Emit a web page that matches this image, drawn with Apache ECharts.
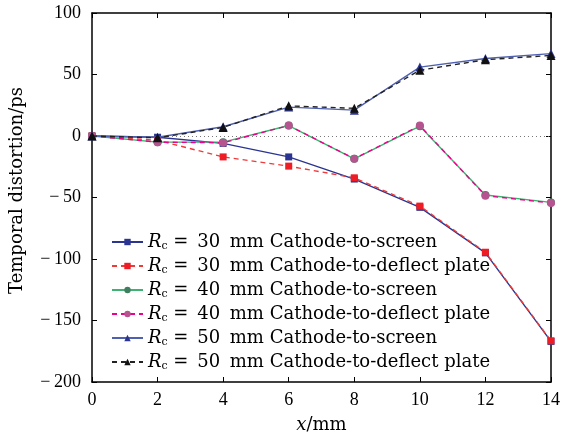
<!DOCTYPE html>
<html>
<head>
<meta charset="utf-8">
<script src="https://cdn.jsdelivr.net/npm/echarts@6/dist/echarts.min.js"></script>
<style>
  html, body { margin: 0; padding: 0; background: #fff; }
  #chart { width: 564px; height: 439px; }
</style>
</head>
<body>
<div id="chart"></div>
<script>
// Sampling positions along the deflection direction (mm)
const xPositions = [0, 2, 4, 6, 8, 10, 12, 14];

// Temporal distortion (ps) for each cathode radius and reference plane
const rc30Screen  = [0, -1, -6, -17, -35, -58, -95, -167];
const rc30Deflect = [0, -3.5, -17, -24.5, -34, -57, -94.5, -166.5];
const rc40Screen  = [0, -5, -5, 8.5, -18.5, 8, -48, -54];
const rc40Deflect = [0, -5, -5.5, 8.5, -18.5, 8.5, -48.5, -54.5];
const rc50Screen  = [0, -1, 7.5, 23.5, 21, 56, 63, 67];
const rc50Deflect = [0, -1.5, 7, 24.5, 22.5, 53.5, 62, 65.5];

const serif = 'Liberation Serif';
const textFont = 'DejaVu Serif';

function pairs(ys) { return xPositions.map((x, i) => [x, ys[i]]); }

const seriesDefs = [
  { key: '30|Cathode-to-screen', data: rc30Screen, color: '#2b3591', markerColor: '#2b3591', symbol: 'rect', size: 7, dash: 'solid' },
  { key: '30|Cathode-to-deflect plate', data: rc30Deflect, color: '#ef3a3a', markerColor: '#ee1c25', symbol: 'rect', size: 7, dash: [5, 4] },
  { key: '40|Cathode-to-screen', data: rc40Screen, color: '#3cb371', markerColor: '#3f7f5f', symbol: 'circle', size: 8, dash: 'solid' },
  { key: '40|Cathode-to-deflect plate', data: rc40Deflect, color: '#ec008c', markerColor: '#b5548f', symbol: 'circle', size: 8, dash: [5, 4] },
  { key: '50|Cathode-to-screen', data: rc50Screen, color: '#5060b0', markerColor: '#2b3591', symbol: 'triangle', size: 9, dash: 'solid' },
  { key: '50|Cathode-to-deflect plate', data: rc50Deflect, color: '#222', markerColor: '#111', symbol: 'triangle', size: 9, dash: [5, 4] }
];

const series = seriesDefs.map((d, i) => ({
  name: d.key,
  type: 'line',
  data: pairs(d.data),
  symbol: d.symbol,
  symbolSize: d.size,
  showAllSymbol: true,
  lineStyle: { color: d.color, width: 1.4, type: d.dash },
  itemStyle: { color: d.markerColor, borderWidth: 0 },
  emphasis: { disabled: true },
  z: 3 + i,
  animation: false
}));

// dotted zero reference line
series[0].markLine = {
  silent: true,
  symbol: 'none',
  label: { show: false },
  lineStyle: { color: '#777', type: [1, 3], width: 1 },
  data: [{ yAxis: 0 }],
  animation: false
};

const chart = echarts.init(document.getElementById('chart'));
const axisLine = { show: true, onZero: false, lineStyle: { color: '#000', width: 1.5 } };
const tick = { show: true, inside: true, length: 5, lineStyle: { color: '#000', width: 1 } };
const legendSize = 18;

chart.setOption({
  animation: false,
  backgroundColor: '#fff',
  grid: { left: 92, right: 13, top: 13, bottom: 57, containLabel: false },
  xAxis: [
    {
      type: 'value', min: 0, max: 14, interval: 2,
      axisLine, axisTick: tick, splitLine: { show: false },
      axisLabel: { color: '#000', fontFamily: serif, fontSize: 18, margin: 9 },
      name: '{i|x}/mm', nameLocation: 'middle', nameGap: 34,
      nameTextStyle: {
        color: '#000', fontFamily: textFont, fontSize: 18,
        rich: { i: { fontFamily: textFont, fontSize: 18, fontStyle: 'italic', color: '#000' } }
      }
    },
    {
      type: 'value', min: 0, max: 14, interval: 2, position: 'top',
      axisLine, axisTick: tick, axisLabel: { show: false }, splitLine: { show: false }
    }
  ],
  yAxis: [
    {
      type: 'value', min: -200, max: 100, interval: 50,
      axisLine, axisTick: tick, splitLine: { show: false },
      axisLabel: {
        color: '#000', fontFamily: serif, fontSize: 18, margin: 11,
        formatter: v => (v < 0 ? '\u2212\u2009' + Math.abs(v) : String(v))
      },
      name: 'Temporal distortion/ps', nameLocation: 'middle', nameGap: 66,
      nameTextStyle: { color: '#000', fontFamily: textFont, fontSize: 18, padding: [0, 0, 0, 14] }
    },
    {
      type: 'value', min: -200, max: 100, interval: 50, position: 'right',
      axisLine, axisTick: tick, axisLabel: { show: false }, splitLine: { show: false }
    }
  ],
  legend: {
    left: 111, top: 233, orient: 'vertical', padding: 0,
    itemWidth: 31, itemHeight: 8, itemGap: 5.5,
    data: seriesDefs.map(d => d.key),
    formatter: name => {
      const [r, desc] = name.split('|');
      return '{i|R}{s|c}{eq|=}{n|' + r + '}{u|mm}' + desc;
    },
    textStyle: {
      color: '#000', fontFamily: textFont, fontSize: legendSize,
      rich: {
        i: { fontFamily: textFont, fontSize: legendSize, fontStyle: 'italic', color: '#000' },
        s: { fontFamily: textFont, fontSize: 11, color: '#000', verticalAlign: 'bottom', padding: [8, 0, 0, 0] },
        eq: { fontFamily: textFont, fontSize: legendSize, color: '#000', width: 26, align: 'center' },
        n: { fontFamily: textFont, fontSize: legendSize, color: '#000', width: 30, align: 'left' },
        u: { fontFamily: textFont, fontSize: legendSize, color: '#000', width: 46, align: 'left' }
      }
    }
  },
  series
});
</script>
</body>
</html>
